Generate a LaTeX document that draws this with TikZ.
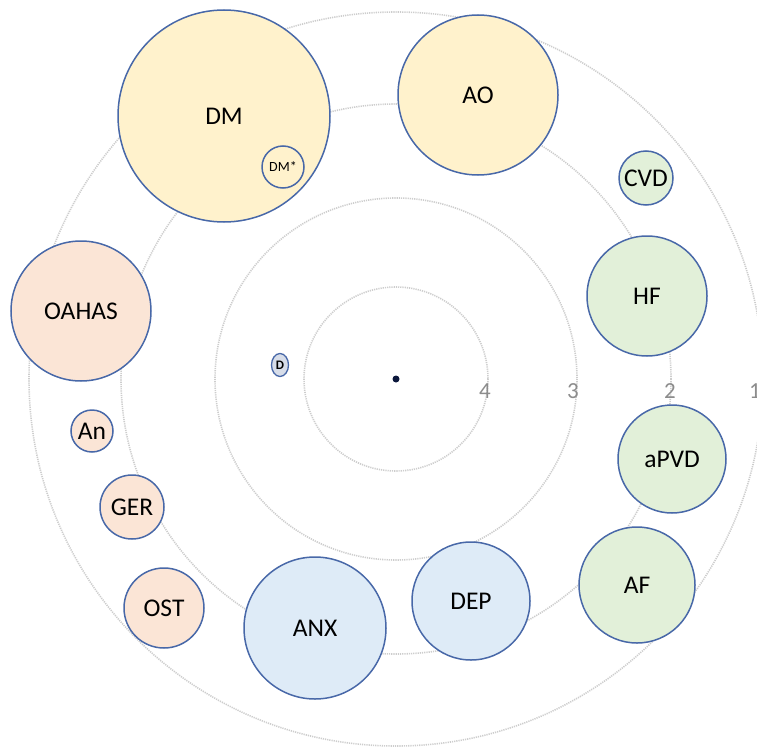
\documentclass[tikz,border=0pt]{standalone}
\usepackage{fontspec}
\setmainfont{Carlito}
\usetikzlibrary{shapes.geometric}
\definecolor{bord}{RGB}{72,104,168}
\definecolor{yel}{RGB}{255,242,204}
\definecolor{pea}{RGB}{251,229,214}
\definecolor{grn}{RGB}{226,240,217}
\definecolor{blu}{RGB}{222,235,247}
\definecolor{dgr}{RGB}{215,221,233}
\definecolor{ringc}{RGB}{205,205,205}
\definecolor{numc}{RGB}{140,140,140}
\definecolor{navy}{RGB}{12,24,60}
\tikzset{
  bub/.style={circle, draw=bord, line width=1.5pt, inner sep=0pt, font=\fontsize{25.5}{27}\selectfont, text=black},
  ringline/.style={draw=ringc, line width=1.6pt, dash pattern=on 1.2pt off 1pt},
  ringnum/.style={text=numc, font=\fontsize{23}{25}\selectfont, inner sep=0pt}
}
\begin{document}
\begin{tikzpicture}[x=1pt,y=-1pt]
\useasboundingbox (0,0) rectangle (757,749);
% center and rings
\node[circle, fill=navy, inner sep=0pt, minimum size=7pt] (C) at (396,379) {};
\draw[ringline] (C.center) circle[radius=92];
\draw[ringline] (C.center) circle[radius=181];
\draw[ringline] (C.center) circle[radius=275];
\draw[ringline] (C.center) circle[radius=367];
\node[ringnum] (n4) at (485,391) {4};
\node[ringnum] (n3) at (573,391) {3};
\node[ringnum] (n2) at (670,391) {2};
\node[ringnum] (n1) at (755,391) {1};
% yellow
\node[bub, fill=yel, minimum size=212pt] (DM) at (224,116) {DM};
\node[bub, fill=yel, minimum size=42pt, font=\fontsize{14}{15}\selectfont] (DMs) at (283,167) {DM*};
\node[bub, fill=yel, minimum size=160pt] (AO) at (478,95) {AO};
% green
\node[bub, fill=grn, minimum size=54pt] (CVD) at (646,178) {CVD};
\node[bub, fill=grn, minimum size=120pt] (HF) at (647,296) {HF};
\node[bub, fill=grn, minimum size=108pt] (aPVD) at (672,459) {aPVD};
\node[bub, fill=grn, minimum size=116pt] (AF) at (637,585) {AF};
% blue
\node[bub, fill=blu, minimum size=118pt] (DEP) at (471,601) {DEP};
\node[bub, fill=blu, minimum size=142pt] (ANX) at (315,628) {ANX};
% peach
\node[bub, fill=pea, minimum size=80pt] (OST) at (164,608) {OST};
\node[bub, fill=pea, minimum size=64pt] (GER) at (132,507) {GER};
\node[bub, fill=pea, minimum size=42pt] (An) at (92,431) {An};
\node[bub, fill=pea, minimum size=140pt] (OAHAS) at (81,311) {OAHAS};
% D
\node[ellipse, draw=bord, line width=1.3pt, fill=dgr, inner sep=0pt, minimum width=17pt, minimum height=23pt, font=\fontsize{13}{14}\selectfont\bfseries] (D) at (280,365) {D};
\end{tikzpicture}
\end{document}
